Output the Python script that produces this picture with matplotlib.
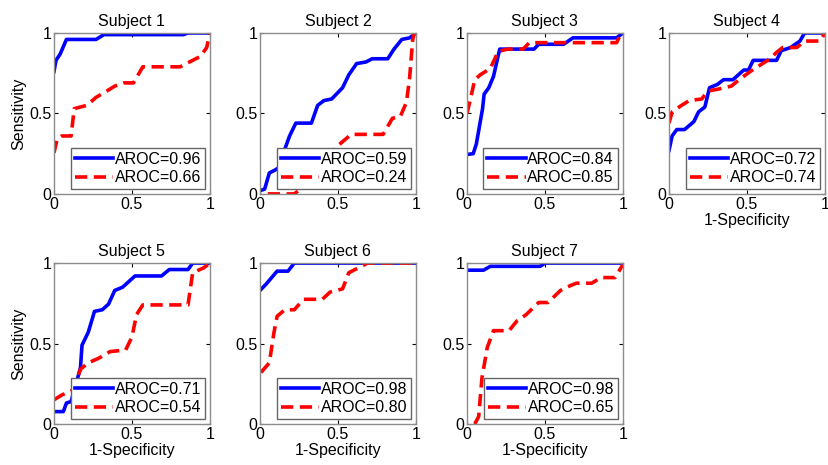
import matplotlib
matplotlib.use("Agg")
import matplotlib.pyplot as plt

plt.rcParams["font.family"] = ["Liberation Sans", "DejaVu Sans"]

titles = ["Subject 1", "Subject 2", "Subject 3", "Subject 4",
          "Subject 5", "Subject 6", "Subject 7"]
auc_a = [0.96, 0.59, 0.84, 0.72, 0.71, 0.98, 0.98]
auc_b = [0.66, 0.24, 0.85, 0.74, 0.54, 0.80, 0.65]

# blue (solid) ROC curves: (1-specificity, sensitivity)
s1_ax = [0, 0.013, 0.04, 0.08, 0.27, 0.32, 0.83, 0.86, 1]
s1_ay = [0.76, 0.83, 0.87, 0.96, 0.96, 0.99, 0.99, 1, 1]
s2_ax = [0, 0.03, 0.06, 0.10, 0.13, 0.16, 0.19, 0.23, 0.33, 0.37, 0.41, 0.46,
         0.53, 0.57, 0.62, 0.68, 0.72, 0.82, 0.86, 0.91, 0.96, 1]
s2_ay = [0.02, 0.03, 0.13, 0.15, 0.17, 0.28, 0.36, 0.44, 0.44, 0.55, 0.58,
         0.59, 0.66, 0.74, 0.81, 0.82, 0.84, 0.84, 0.90, 0.96, 0.97, 1]
s3_ax = [0, 0.04, 0.06, 0.08, 0.10, 0.11, 0.14, 0.17, 0.21, 0.34, 0.43, 0.46,
         0.62, 0.68, 0.96, 1]
s3_ay = [0.245, 0.25, 0.31, 0.42, 0.53, 0.62, 0.66, 0.73, 0.90, 0.90, 0.90,
         0.93, 0.93, 0.97, 0.97, 1]
s4_ax = [0, 0.02, 0.05, 0.10, 0.16, 0.19, 0.23, 0.26, 0.31, 0.35, 0.41, 0.48,
         0.51, 0.54, 0.69, 0.72, 0.78, 0.84, 0.87, 1]
s4_ay = [0.27, 0.36, 0.40, 0.40, 0.45, 0.51, 0.54, 0.66, 0.68, 0.71, 0.71,
         0.77, 0.77, 0.83, 0.83, 0.89, 0.91, 0.95, 1, 1]
s5_ax = [0, 0.06, 0.08, 0.11, 0.145, 0.17, 0.18, 0.22, 0.26, 0.31, 0.35, 0.39,
         0.44, 0.52, 0.69, 0.74, 0.86, 0.89, 1]
s5_ay = [0.077, 0.077, 0.13, 0.14, 0.26, 0.35, 0.49, 0.57, 0.70, 0.71, 0.745,
         0.83, 0.85, 0.92, 0.92, 0.96, 0.96, 1, 1]
s6_ax = [0, 0.04, 0.11, 0.18, 0.22, 1]
s6_ay = [0.83, 0.87, 0.95, 0.95, 1, 1]
s7_ax = [0, 0.106, 0.15, 0.47, 0.5, 1]
s7_ay = [0.956, 0.956, 0.98, 0.98, 1, 1]

# red (dashed) ROC curves
s1_bx = [0, 0.02, 0.05, 0.11, 0.13, 0.21, 0.27, 0.34, 0.39, 0.45, 0.51, 0.57,
         0.81, 0.87, 0.94, 0.98, 1]
s1_by = [0.255, 0.34, 0.36, 0.36, 0.53, 0.55, 0.60, 0.64, 0.67, 0.69, 0.69,
         0.79, 0.79, 0.82, 0.855, 0.91, 1]
s2_bx = [0.05, 0.22, 0.26, 0.35, 0.45, 0.5, 0.585, 0.79, 0.85, 0.9, 0.94,
         0.96, 0.98, 0.99]
s2_by = [0.0, 0.0, 0.03, 0.12, 0.25, 0.30, 0.37, 0.37, 0.47, 0.48, 0.57,
         0.72, 0.96, 1]
s3_bx = [0, 0.02, 0.05, 0.085, 0.15, 0.2, 0.26, 0.36, 0.40, 0.89, 0.96,
         0.98, 1]
s3_by = [0.5, 0.58, 0.71, 0.74, 0.78, 0.885, 0.9, 0.9, 0.94, 0.94, 0.94,
         0.98, 1]
s4_bx = [0, 0.02, 0.08, 0.13, 0.21, 0.25, 0.31, 0.40, 0.45, 0.52, 0.60, 0.65,
         0.69, 0.73, 0.82, 0.87, 0.97, 1]
s4_by = [0.44, 0.51, 0.55, 0.58, 0.59, 0.64, 0.65, 0.67, 0.71, 0.76, 0.81,
         0.84, 0.88, 0.91, 0.91, 0.95, 0.95, 1]
s5_bx = [0, 0.05, 0.12, 0.17, 0.22, 0.29, 0.36, 0.46, 0.50, 0.53, 0.57, 0.86,
         0.89, 0.96, 1]
s5_by = [0.15, 0.18, 0.21, 0.34, 0.38, 0.41, 0.45, 0.46, 0.54, 0.68, 0.74,
         0.74, 0.94, 0.97, 1]
s6_bx = [0.006, 0.06, 0.09, 0.11, 0.16, 0.22, 0.28, 0.40, 0.45, 0.53, 0.57,
         0.63, 0.69, 1]
s6_by = [0.32, 0.38, 0.57, 0.67, 0.71, 0.71, 0.775, 0.775, 0.82, 0.84, 0.94,
         0.97, 1, 1]
s7_bx = [0.05, 0.075, 0.096, 0.13, 0.17, 0.27, 0.32, 0.38, 0.46, 0.52, 0.6,
         0.64, 0.70, 0.80, 0.86, 0.95, 1]
s7_by = [0, 0.046, 0.285, 0.475, 0.58, 0.58, 0.64, 0.68, 0.755, 0.755, 0.83,
         0.85, 0.875, 0.875, 0.91, 0.91, 0.99]

curves_a = [(s1_ax, s1_ay), (s2_ax, s2_ay), (s3_ax, s3_ay), (s4_ax, s4_ay),
            (s5_ax, s5_ay), (s6_ax, s6_ay), (s7_ax, s7_ay)]
curves_b = [(s1_bx, s1_by), (s2_bx, s2_by), (s3_bx, s3_by), (s4_bx, s4_by),
            (s5_bx, s5_by), (s6_bx, s6_by), (s7_bx, s7_by)]

fig = plt.figure(figsize=(8.29, 4.65), dpi=100)

lefts = [0.0651, 0.3136, 0.5633, 0.8070]
bottoms = [0.583, 0.0882]
w, h = 0.188, 0.346
frame = "#8c8c8c"

for i in range(7):
    row, col = divmod(i, 4)
    ax = fig.add_axes([lefts[col], bottoms[row], w, h])
    ax.plot(*curves_a[i], color="#0000ff", lw=2.6, label=f"AROC={auc_a[i]:.2f}")
    ax.plot(*curves_b[i], color="#ff0000", lw=2.6, ls=(0, (3.4, 1.8)),
            label=f"AROC={auc_b[i]:.2f}")
    ax.set_xlim(0, 1)
    ax.set_ylim(0, 1)
    ax.set_xticks([0, 0.5, 1])
    ax.set_yticks([0, 0.5, 1])
    ax.set_xticklabels(["0", "0.5", "1"])
    ax.set_yticklabels(["0", "0.5", "1"])
    ax.tick_params(direction="in", top=True, right=True, length=3,
                   labelsize=11.5, color="black", pad=2)
    for sp in ax.spines.values():
        sp.set_color(frame)
        sp.set_linewidth(1)
    ax.set_title(titles[i], fontsize=11.5, pad=5)
    if col == 0:
        ax.set_ylabel("Sensitivity", fontsize=11.5, labelpad=2)
    if row == 1 or col == 3:
        ax.set_xlabel("1-Specificity", fontsize=11.5, labelpad=1)
    leg = ax.legend(loc="lower right", fontsize=11.5, handlelength=2.4,
                    handletextpad=0.1, borderpad=0.25, labelspacing=0.2,
                    borderaxespad=0.3, fancybox=False, framealpha=1)
    leg.get_frame().set_edgecolor("#666666")
    leg.get_frame().set_linewidth(1)

fig.savefig("out.png", dpi=100)
